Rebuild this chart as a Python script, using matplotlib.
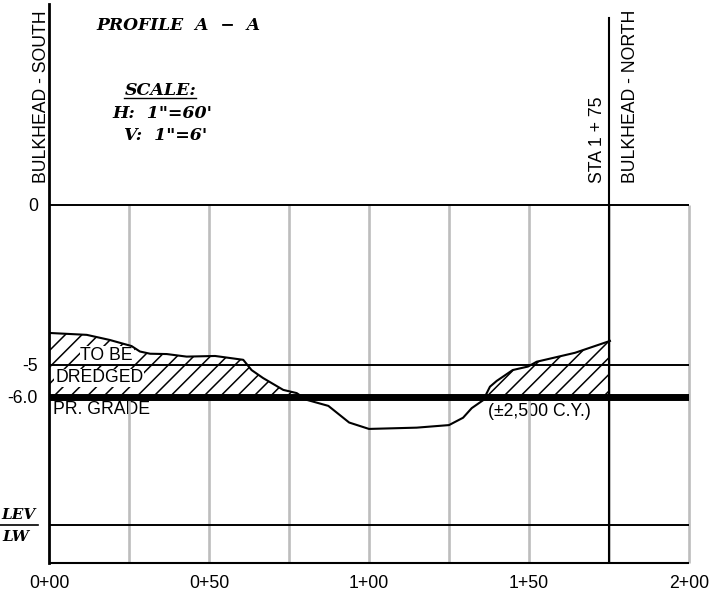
import numpy as np
import matplotlib
matplotlib.use("Agg")
import matplotlib.pyplot as plt

plt.rcParams["font.family"] = ["Liberation Sans", "DejaVu Sans"]
plt.rcParams["hatch.linewidth"] = 1.1

# stations (ft) and elevations (ft)
sta = np.array([0, 11.8, 19, 25.8, 28.4, 31.6, 36.8, 43, 51.9, 60.7, 63.3, 66.9, 73.2, 77.4,
                80.5, 87.3, 93.8, 100, 114.9, 125, 129.4, 132.1, 135.7, 137.8, 139.9,
                144.9, 149.7, 152.4, 164.4, 175.3])
elev = np.array([-4.0, -4.06, -4.22, -4.41, -4.58, -4.65, -4.66, -4.74, -4.72, -4.84, -5.16,
                 -5.41, -5.78, -5.88, -6.09, -6.28, -6.8, -7.0, -6.96, -6.88, -6.65, -6.35,
                 -6.1, -5.68, -5.5, -5.16, -5.05, -4.9, -4.62, -4.25])
grade = -6.0
grid_sta = [25, 50, 75, 100, 125, 150, 175, 200]
h_lines = [0, -5, -10]
x_ticks = [0, 50, 100, 150, 200]
x_labels = ["0+00", "0+50", "1+00", "1+50", "2+00"]
y_ticks = [0, -5, -6]
y_labels = ["0", "-5", "-6.0"]

fs = 12.7
serif = dict(family="DejaVu Serif", weight="bold", style="italic", color="black")

fig = plt.figure(figsize=(7.09, 5.94), dpi=100)
ax = fig.add_axes([49 / 709, 31 / 594, 640 / 709, 559 / 594])
ax.set_xlim(0, 200)
ax.set_ylim(-11.19, 6.28)
for s in ["top", "right", "bottom"]:
    ax.spines[s].set_visible(False)
ax.spines["left"].set_linewidth(2)
ax.spines["left"].set_zorder(6)

# these two sit under the grid, the gray line runs through them
ax.text(1.3, -6.38, "PR. GRADE", fontsize=fs, ha="left", va="center", zorder=1)
ax.text(137.2, -6.44, "(±2,500 C.Y.)", fontsize=fs, ha="left", va="center", zorder=1)

# station grid
ax.vlines(grid_sta, -11.19, 0, color="#bdbdbd", linewidth=1.9, zorder=2, clip_on=False)

# hatched cut above the grade line, white fill hides the grid
ax.fill_between(sta, elev, grade, where=elev > grade, interpolate=True,
                facecolor="white", edgecolor="black", hatch="//", linewidth=0, zorder=3)

ax.text(9.8, -4.7, "TO BE", fontsize=fs, ha="left", va="center", zorder=3.5,
        bbox=dict(facecolor="white", edgecolor="none", pad=0.5))
ax.text(1.9, -5.4, "DREDGED", fontsize=fs, ha="left", va="center", zorder=3.5,
        bbox=dict(facecolor="white", edgecolor="none", pad=0.5))

# horizontal lines
ax.hlines(h_lines, 0, 200, color="black", linewidth=1.4, zorder=4)
ax.hlines(-11.19, 0, 200, color="black", linewidth=1.5, zorder=4, clip_on=False)
ax.hlines(grade, 0, 200, color="black", linewidth=5, zorder=4)
ax.plot(sta, elev, color="black", linewidth=1.5, zorder=5)
ax.plot([175, 175], [-11.19, 5.85], color="black", linewidth=1.5, zorder=5)

ax.set_xticks(x_ticks, x_labels, fontsize=fs)
ax.set_yticks(y_ticks, y_labels, fontsize=fs)
ax.tick_params(length=0, pad=8)
ax.tick_params(axis="x", pad=9)

# vertical labels
for x, label in [(-2.2, "BULKHEAD - SOUTH"), (181.8, "BULKHEAD - NORTH"), (171.4, "STA 1 + 75")]:
    ax.text(x, 0.69, label, rotation=90, fontsize=fs, ha="center", va="bottom")

# title block
ax.text(40.3, 5.62, "PROFILE  A  −  A", fontsize=12.3, ha="center", va="center", **serif)
ax.text(35, 3.58, "SCALE:", fontsize=12.5, ha="center", va="center", **serif)
ax.plot([23.4, 45.9], [3.33, 3.33], color="black", linewidth=1, clip_on=False)
ax.text(35.3, 2.87, "H:  1\"=60'", fontsize=12.5, ha="center", va="center", **serif)
ax.text(36.5, 2.18, "V:  1\"=6'", fontsize=12.5, ha="center", va="center", **serif)

# elevation note left of the axis
ax.text(-4.3, -9.69, "LEV", fontsize=11, ha="right", va="center", clip_on=False, **serif)
ax.text(-6.1, -10.38, "LW", fontsize=11, ha="right", va="center", clip_on=False, **serif)
ax.plot([-16, -3.4], [-10, -10], color="black", linewidth=1.2, clip_on=False)

fig.savefig("out.png", dpi=100)
